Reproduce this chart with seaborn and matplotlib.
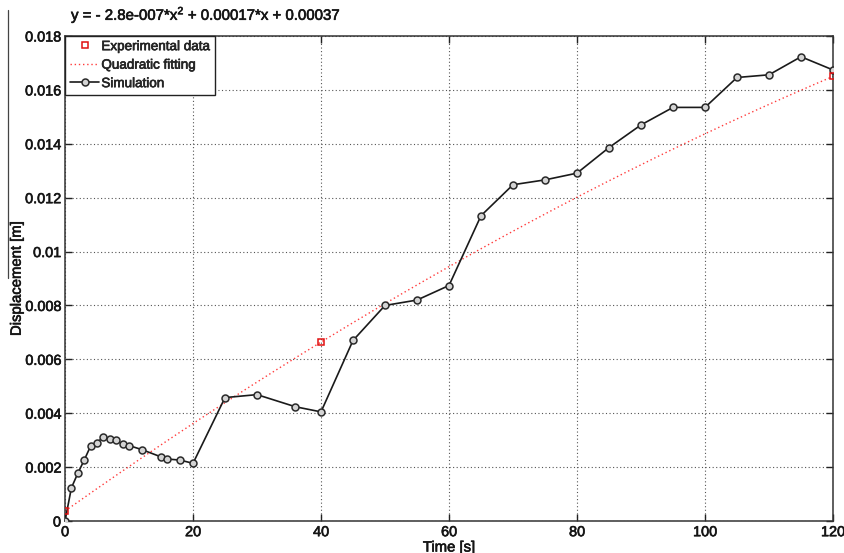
import numpy as np
import pandas as pd
import matplotlib
matplotlib.use("Agg")
import matplotlib.pyplot as plt
import matplotlib.patheffects as pe
from matplotlib.lines import Line2D
import seaborn as sns

# Simulated displacement history
sim_time = [0, 1, 2, 3, 4, 5, 6, 7, 8, 9, 10, 12, 15, 16, 18, 20, 25, 30, 36, 40,
            45, 50, 55, 60, 65, 70, 75, 80, 85, 90, 95, 100, 105, 110, 115, 120]
sim_disp = [0.0, 0.00123, 0.00177, 0.00226, 0.00278, 0.00291, 0.00312, 0.00305,
            0.00300, 0.00285, 0.00280, 0.00265, 0.00238, 0.00230, 0.00226, 0.00214,
            0.00458, 0.00469, 0.00424, 0.00405, 0.00670, 0.00800, 0.00820, 0.00874,
            0.01133, 0.01248, 0.01266, 0.01291, 0.01386, 0.01470, 0.01535, 0.01535,
            0.01646, 0.01656, 0.01723, 0.01674]

# Measured displacements
exp_time = [0, 40, 120]
exp_disp = [0.00037, 0.00664, 0.0165]

x_ticks = [0, 20, 40, 60, 80, 100, 120]
x_tick_labels = ["0", "20", "40", "60", "80", "100", "120"]
y_ticks = [0, 0.002, 0.004, 0.006, 0.008, 0.010, 0.012, 0.014, 0.016, 0.018]
y_tick_labels = ["0", "0.002", "0.004", "0.006", "0.008", "0.01",
                 "0.012", "0.014", "0.016", "0.018"]

fit_label = "y = - 2.8e-007*x$^{2}$ + 0.00017*x + 0.00037"

# Quadratic fit through the measured points
coef = np.polyfit(exp_time, exp_disp, 2)
fit_t = np.linspace(0, 120, 241)
fit_df = pd.DataFrame({"t": fit_t, "d": np.polyval(coef, fit_t)})
sim_df = pd.DataFrame({"t": sim_time, "d": sim_disp})
exp_df = pd.DataFrame({"t": exp_time, "d": exp_disp})

sns.set_style("white")
plt.rcParams["font.family"] = ["Liberation Sans", "DejaVu Sans"]
plt.rcParams["mathtext.fontset"] = "custom"
plt.rcParams["mathtext.rm"] = "Liberation Sans"
plt.rcParams["mathtext.it"] = "Liberation Sans:italic"
plt.rcParams["mathtext.bf"] = "Liberation Sans:bold"

tick_fs = 10.4
label_fs = 10.7
legend_fs = 9.7
txt_color = "#151515"
# slightly heavier strokes for all text
heavy = [pe.withStroke(linewidth=0.45, foreground=txt_color)]

fig = plt.figure(figsize=(8.44, 5.53), dpi=100)
ax = fig.add_axes([65 / 844, 1 - 521 / 553, 768 / 844, 485 / 553])

sns.lineplot(data=exp_df, x="t", y="d", ax=ax, linestyle="none", marker="s",
             markersize=5, mfc="none", mec="#e01010", mew=1.1,
             label="Experimental data", zorder=4)
sns.lineplot(data=fit_df, x="t", y="d", ax=ax, color="#ff3b3b",
             linestyle=(0, (1, 2)), linewidth=1.0, label="Quadratic fitting",
             zorder=2)
sns.lineplot(data=sim_df, x="t", y="d", ax=ax, color="#1a1a1a", linewidth=1.2,
             marker="o", markersize=5, mfc="#d4d4d4", mec="#2a2a2a", mew=1.1,
             label="Simulation", zorder=3)

ax.set_xlim(0, 120)
ax.set_ylim(0, 0.018)
ax.set_xticks(x_ticks)
ax.set_xticklabels(x_tick_labels, fontsize=tick_fs)
ax.set_yticks(y_ticks)
ax.set_yticklabels(y_tick_labels, fontsize=tick_fs)
ax.tick_params(axis="both", which="both", direction="in", length=5, width=1,
               color="#222222", top=True, right=True, bottom=True, left=True,
               labelcolor=txt_color)
ax.tick_params(axis="x", pad=3)
ax.tick_params(axis="y", pad=3)

ax.grid(True, color="#555555", linestyle=(0, (1, 2.2)), linewidth=0.8)
ax.set_axisbelow(True)
for sp in ax.spines.values():
    sp.set_visible(True)
    sp.set_color("#333333")
    sp.set_linewidth(1.1)

ax.set_xlabel("Time [s]", fontsize=label_fs, labelpad=1, color=txt_color)
ax.set_ylabel("Displacement [m]", fontsize=label_fs, labelpad=1, color=txt_color)

leg = ax.legend(loc="upper left", bbox_to_anchor=(0, 1), borderaxespad=0,
                fontsize=legend_fs, frameon=True, fancybox=False, framealpha=1,
                edgecolor="#222222", handlelength=2.2, handletextpad=0.15,
                labelspacing=0.45, borderpad=0.35)
leg.get_frame().set_linewidth(1.0)

eq = fig.text(71 / 844, 1 - 15 / 553, fit_label, fontsize=10.8, va="center",
              ha="left", color=txt_color)

texts = (ax.get_xticklabels() + ax.get_yticklabels() + leg.get_texts()
         + [ax.xaxis.label, ax.yaxis.label, eq])
for t in texts:
    t.set_path_effects(heavy)

# thin rule along the left page edge
fig.add_artist(Line2D([8 / 844, 8 / 844], [1 - 10 / 553, 1 - 278 / 553],
                      transform=fig.transFigure, color="#444444", linewidth=0.9))

fig.savefig("out.png", dpi=100)
